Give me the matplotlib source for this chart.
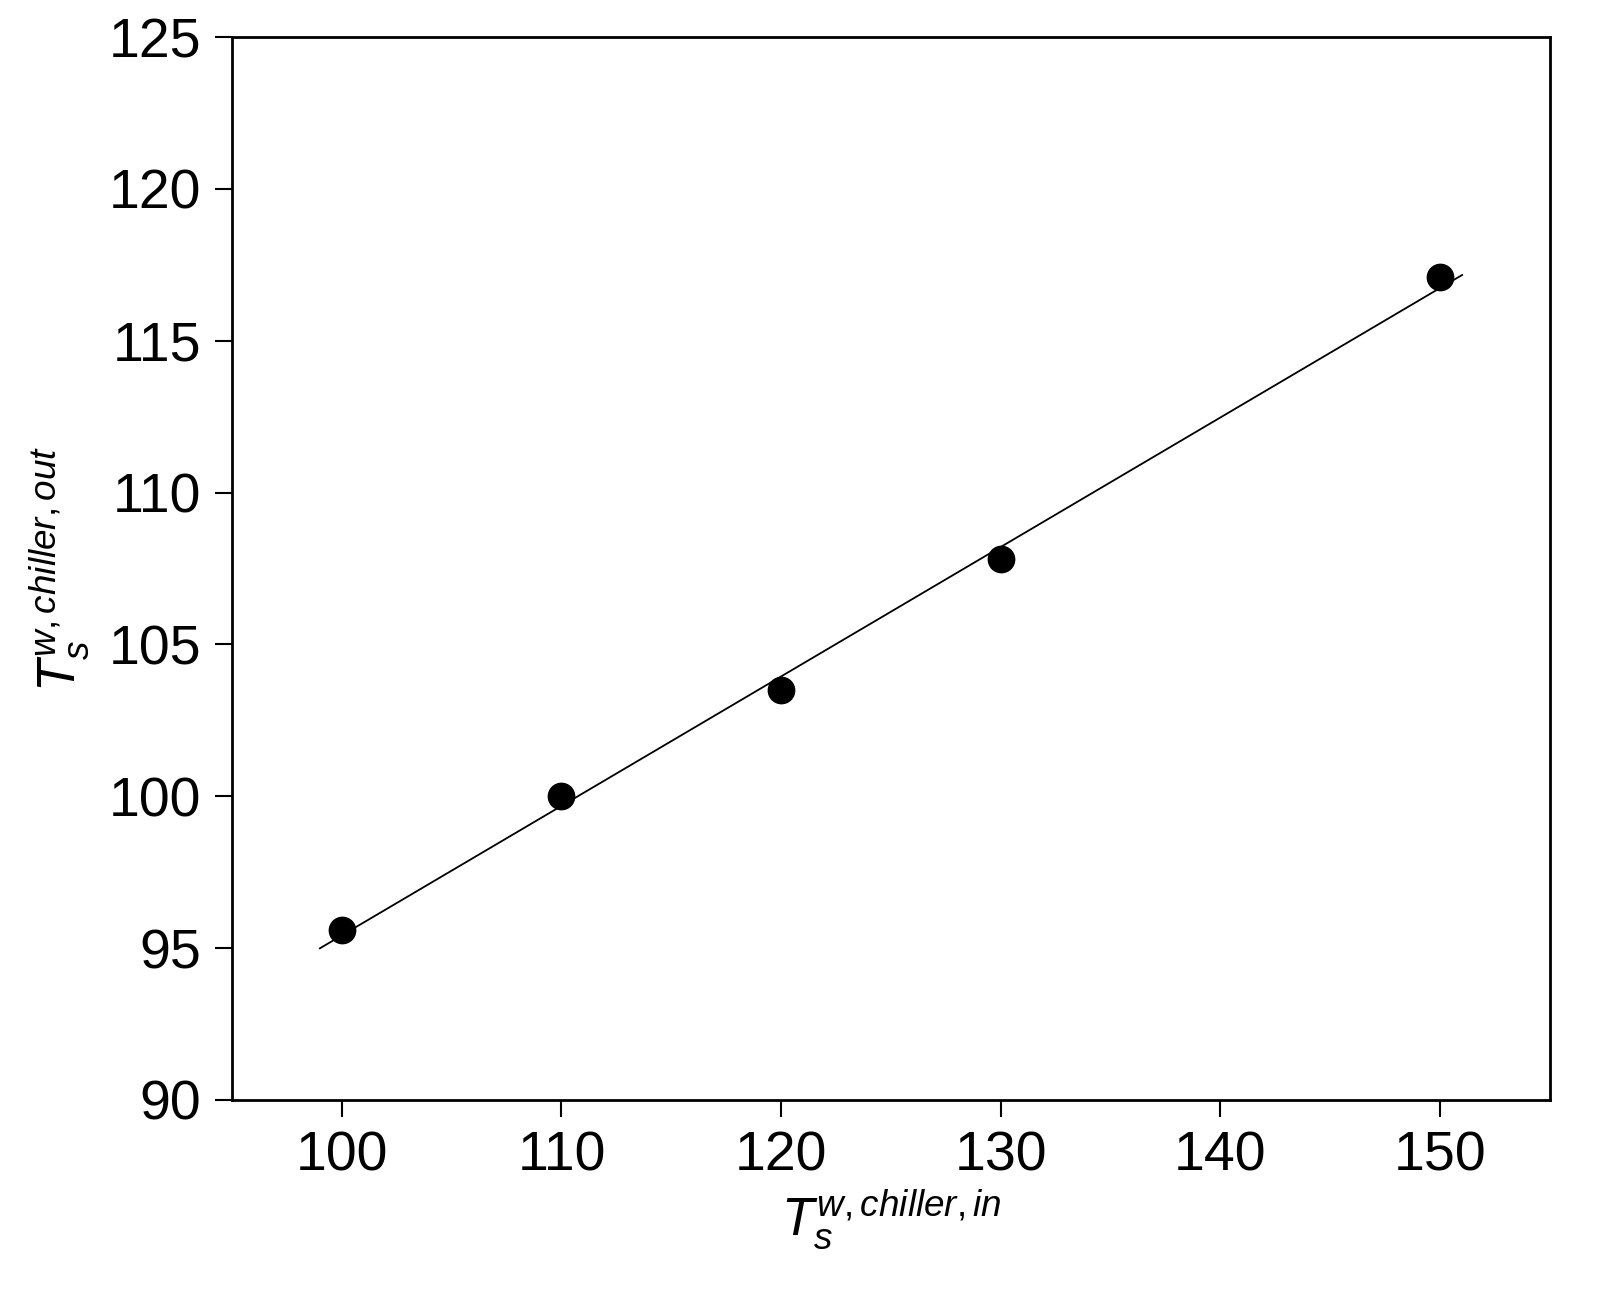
import matplotlib
matplotlib.use('Agg')
import matplotlib.pyplot as plt
import numpy as np

plt.rcParams['font.family'] = ['Liberation Sans', 'DejaVu Sans']
plt.rcParams['mathtext.fontset'] = 'custom'
plt.rcParams['mathtext.it'] = 'Liberation Sans:italic'
plt.rcParams['mathtext.rm'] = 'Liberation Sans'

# data
t_in = [100, 110, 120, 130, 150]
t_out = [95.6, 100.0, 103.5, 107.8, 117.1]
fit_range = [99, 151]

fig = plt.figure(figsize=(16.08, 13.14), dpi=100)
ax = fig.add_axes([232 / 1608, 1 - 1100 / 1314, (1550 - 232) / 1608, (1100 - 37) / 1314])

coef = np.polyfit(t_in, t_out, 1)
xf = np.array(fit_range)
ax.plot(xf, np.polyval(coef, xf), color='black', lw=1.3)
ax.scatter(t_in, t_out, s=360, color='black', zorder=3)

ax.set_xlim(95, 155)
ax.set_ylim(90, 125)
ax.set_xticks([100, 110, 120, 130, 140, 150])
ax.set_yticks([90, 95, 100, 105, 110, 115, 120, 125])
ax.tick_params(labelsize=40, direction='out', length=12, width=1.5, pad=10)
for s in ax.spines.values():
    s.set_linewidth(2)

ax.set_xlabel(r'$T_s^{w,chiller,in}$', fontsize=38, labelpad=4)
ax.set_ylabel(r'$T_s^{w,chiller,out}$', fontsize=38, labelpad=12)

fig.savefig('out.png', dpi=100)
